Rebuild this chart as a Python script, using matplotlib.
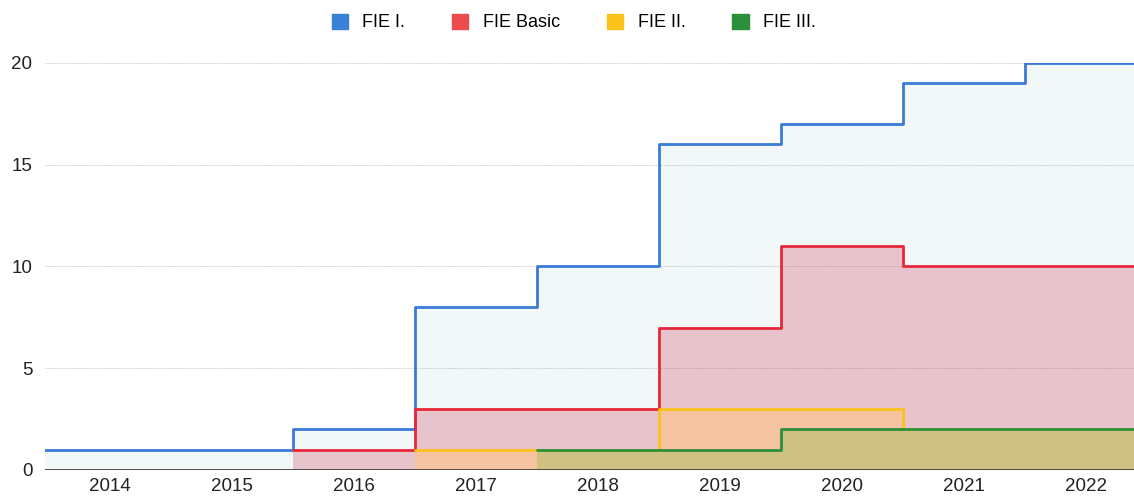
import numpy as np
import matplotlib.pyplot as plt

plt.rcParams['font.family'] = ['Liberation Sans', 'DejaVu Sans']

years = ['2014', '2015', '2016', '2017', '2018', '2019', '2020', '2021', '2022']
fie1 = [1, 1, 2, 8, 10, 16, 17, 19, 20]
fie_basic = [np.nan, np.nan, 1, 3, 3, 7, 11, 10, 10]
fie2 = [np.nan, np.nan, np.nan, 1, 1, 3, 3, 2, 2]
fie3 = [np.nan, np.nan, np.nan, np.nan, 1, 1, 2, 2, 2]

names = ['FIE I.', 'FIE Basic', 'FIE II.', 'FIE III.']
line_cols = ['#3a7bd8', '#e5283a', '#fbc21a', '#2b8f3c']
# fill colours picked so the overlaps come out like the scan
fill_cols = ['#80c0c0', '#ca2545', '#ffc483', '#97bf57']
fill_alpha = [0.1, 0.25, 0.6, 0.4]

fig = plt.figure(figsize=(11.34, 4.97), dpi=100)
ax = fig.add_axes([45/1134, 27/497, 1 - 45/1134, 407/497])

x = np.arange(len(years))
for vals, lc, fc, fa, nm in zip([fie1, fie_basic, fie2, fie3], line_cols, fill_cols, fill_alpha, names):
    v = np.array(vals, dtype=float)
    first = np.argmax(~np.isnan(v))
    vv = v[first:]
    edges = np.arange(first, len(years) + 1) - 0.5
    if first == 0:
        edges[0] = -1.0  # run off the left edge like the original
    ax.stairs(vv, edges, fill=True, baseline=0, color=fc, alpha=fa, lw=0, zorder=2)
    ax.stairs(vv, edges, baseline=None, color=lc, lw=2.0, zorder=3,
              joinstyle='round', capstyle='round', label=nm)

for y in [5, 10, 15, 20]:
    ax.axhline(y, color='#d4d4d4', lw=0.7, ls=(0, (2, 1)), zorder=1)
ax.axhline(0, color='#333333', lw=1.2, zorder=4)

ax.set_xlim(-0.53, 8.39)
ax.set_ylim(0, 20)
ax.set_xticks(x)
ax.set_xticklabels(years)
ax.set_yticks([0, 5, 10, 15, 20])
ax.tick_params(length=0, labelsize=13.5, colors='#222222')
ax.tick_params(axis='y', pad=9)
ax.tick_params(axis='x', pad=6)
for s in ax.spines.values():
    s.set_visible(False)

handles = [plt.Rectangle((0, 0), 1, 1, color=c) for c in ['#3a7fd8', '#ec4c4c', '#fbc21a', '#2b8f3c']]
fig.legend(handles, names, loc='upper center', bbox_to_anchor=(0.506, 1.005), ncol=4,
           frameon=False, fontsize=13, handlelength=0.9, handleheight=0.9,
           columnspacing=2.6, handletextpad=0.8)

fig.savefig('out.png', dpi=100)
